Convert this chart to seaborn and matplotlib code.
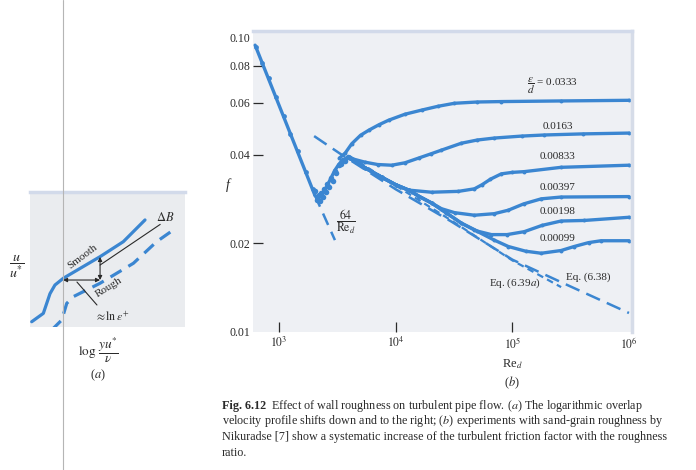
import pandas as pd
import seaborn as sns
import matplotlib.pyplot as plt
from matplotlib.lines import Line2D
from matplotlib.ticker import NullLocator

# ---- panel (b): friction factor vs Reynolds number
lam_re = [624, 2030]
lam_f = [0.094, 0.0291]
lam_ext_re = [2030, 3015]
lam_ext_f = [0.0291, 0.0205]
lam_pts_re = [640, 720, 820, 950, 1100, 1250, 1450, 1700, 1950]
lam_pts_f = [0.093, 0.082, 0.0725, 0.0625, 0.054, 0.047, 0.0412, 0.035, 0.0305]

trans_re = [2030, 2150, 2300, 2570, 2800, 3015, 3250, 3450, 3750, 4045]
trans_f = [0.0291, 0.0284, 0.0288, 0.0312, 0.0334, 0.0354, 0.0370, 0.0381, 0.0388, 0.0389]
trans_pts_re = [2050, 2120, 2200, 2250, 2300, 2380, 2450, 2520, 2600, 2700,
                2800, 2900, 3000, 3100, 3250, 3400, 3550, 3700, 3900]
trans_pts_f = [0.0300, 0.0280, 0.0292, 0.0278, 0.0296, 0.0286, 0.0305, 0.0298,
               0.0318, 0.0310, 0.0334, 0.0326, 0.0352, 0.0345, 0.0368, 0.0372,
               0.0384, 0.0380, 0.0392]

rough_labels = ['0.0333', '0.0163', '0.00833', '0.00397', '0.00198', '0.00099']
re_0333 = [3300, 3700, 4200, 5000, 5900, 7200, 8700, 12000, 16700, 23000, 31900,
           50000, 80500, 262000, 1000000]
f_0333 = [0.0389, 0.0405, 0.0435, 0.0465, 0.0484, 0.0505, 0.0523, 0.0548, 0.0566,
          0.0583, 0.0597, 0.0603, 0.0605, 0.0608, 0.0611]
re_0163 = [4045, 5430, 7000, 9250, 12000, 15700, 20000, 24700, 36600, 50000, 70200,
           120000, 188000, 400000, 1000000]
f_0163 = [0.0389, 0.0377, 0.0370, 0.0368, 0.0375, 0.0389, 0.0402, 0.0414, 0.0437,
          0.0448, 0.0455, 0.0462, 0.0466, 0.0470, 0.0473]
re_00833 = [4045, 5500, 7590, 10000, 12900, 20300, 34500, 47300, 55000, 65000, 80500,
            100000, 126700, 262000, 1000000]
f_00833 = [0.0389, 0.0360, 0.0335, 0.0316, 0.0303, 0.0298, 0.0300, 0.0306, 0.0316,
           0.0330, 0.0344, 0.0348, 0.0350, 0.0362, 0.0368]
re_00397 = [4045, 5500, 7590, 10000, 12900, 16000, 20300, 24700, 32000, 47300, 70000,
            92500, 125000, 177000, 262000, 1000000]
f_00397 = [0.0389, 0.0360, 0.0335, 0.0316, 0.0303, 0.0288, 0.0274, 0.0262, 0.0254,
           0.0249, 0.0252, 0.0259, 0.0272, 0.0283, 0.0287, 0.0288]
re_00198 = [4045, 5500, 7590, 10000, 12900, 16000, 20300, 27000, 36600, 50000, 66200,
            90000, 126700, 180000, 262000, 412000, 1000000]
f_00198 = [0.0389, 0.0360, 0.0335, 0.0316, 0.0303, 0.0288, 0.0274, 0.0254, 0.0234,
           0.0220, 0.0214, 0.0214, 0.0219, 0.0230, 0.0238, 0.0239, 0.0245]
re_00099 = [4045, 5500, 7590, 10000, 12900, 16000, 20300, 27000, 36600, 47300, 70000,
            92500, 130000, 177000, 262000, 339000, 450000, 577000, 1000000]
f_00099 = [0.0389, 0.0360, 0.0335, 0.0316, 0.0303, 0.0288, 0.0274, 0.0254, 0.0234,
           0.0222, 0.0205, 0.0195, 0.0188, 0.0185, 0.0189, 0.0195, 0.0201, 0.0204, 0.0204]

eq638_re = [2000, 3300, 10000, 30000, 100000, 300000, 1000000]
eq638_f = [0.0462, 0.0404, 0.0305, 0.0237, 0.0176, 0.0144, 0.0116]
eq639_re = [4000, 10000, 30000, 100000, 262000]
eq639_f = [0.0396, 0.0314, 0.0239, 0.0175, 0.0142]

# ---- panel (a): schematic log-law profiles (arbitrary units)
smooth_x = [0.11, 0.86, 1.29, 1.61, 2.15, 4.52, 6.02, 7.42]
smooth_y = [0.39, 1.01, 2.47, 3.11, 3.61, 5.21, 6.32, 7.93]
rough_x = [1.40, 2.05, 2.37, 2.80, 4.52, 6.67, 8.17, 9.25]
rough_y = [-0.22, 0.52, 1.75, 2.25, 3.24, 4.72, 6.32, 7.19]

blue = '#3b86d1'
ink = '#2a2a2a'

sns.set_theme(style='white')
plt.rcParams['font.family'] = ['Liberation Serif', 'DejaVu Serif']
plt.rcParams['mathtext.fontset'] = 'stix'

fig = plt.figure(figsize=(6.96, 4.70), dpi=100)
W, H = 696, 470

# ================= panel (b)
ax = fig.add_axes([253 / W, 1 - 332 / H, 379 / W, 301 / H])
ax.set_facecolor('#eef0f4')

rough = pd.concat([pd.DataFrame({'Re': r, 'f': f, 'eps': lab}) for lab, r, f in
                   zip(rough_labels,
                       [re_0333, re_0163, re_00833, re_00397, re_00198, re_00099],
                       [f_0333, f_0163, f_00833, f_00397, f_00198, f_00099])])

sns.lineplot(x=eq638_re, y=eq638_f, color=blue, lw=1.8, linestyle=(0, (6, 3)), ax=ax)
sns.lineplot(x=eq639_re, y=eq639_f, color=blue, lw=1.6, linestyle=(0, (3, 2)), ax=ax)
sns.lineplot(x=lam_re, y=lam_f, color=blue, lw=2.4, ax=ax)
sns.lineplot(x=lam_ext_re, y=lam_ext_f, color=blue, lw=1.8, linestyle=(0, (5, 3)), ax=ax)
sns.lineplot(x=trans_re, y=trans_f, color=blue, lw=2.4, sort=False, ax=ax)
sns.lineplot(data=rough, x='Re', y='f', units='eps', estimator=None, sort=False,
             color=blue, lw=2.4, ax=ax)
sns.scatterplot(data=rough, x='Re', y='f', color=blue, s=8, linewidth=0, ax=ax)
sns.scatterplot(x=lam_pts_re, y=lam_pts_f, color=blue, s=12, linewidth=0, ax=ax)
sns.scatterplot(x=trans_pts_re, y=trans_pts_f, color=blue, s=16, linewidth=0, ax=ax)

ax.set_xscale('log')
ax.set_yscale('log')
ax.set_xlim(10 ** 2.777, 10 ** 6.026)
ax.set_ylim(0.01, 0.105)
ax.set_xticks([1e3, 1e4, 1e5, 1e6], [r'$10^3$', r'$10^4$', r'$10^5$', r'$10^6$'])
ax.set_yticks([0.01, 0.02, 0.04, 0.06, 0.08, 0.10],
              ['0.01', '0.02', '0.04', '0.06', '0.08', '0.10'])
ax.xaxis.set_minor_locator(NullLocator())
ax.yaxis.set_minor_locator(NullLocator())
ax.tick_params(axis='both', which='major', direction='in', length=7, width=0.9,
               color=ink, labelcolor=ink, labelsize=8.5, bottom=True, left=True)
ax.tick_params(axis='x', pad=3)
ax.tick_params(axis='y', pad=2)
ax.xaxis.get_major_ticks()[-1].tick1line.set_visible(False)
ax.yaxis.get_major_ticks()[0].tick1line.set_visible(False)
ax.yaxis.get_major_ticks()[-1].tick1line.set_visible(False)
ax.set_xlabel('')
ax.set_ylabel('')
for s in ['left', 'bottom']:
    ax.spines[s].set_visible(False)
ax.spines['top'].set_color('#d2daea')
ax.spines['top'].set_linewidth(2.5)
ax.spines['right'].set_color('#d6dce8')
ax.spines['right'].set_linewidth(2.5)

lab_kw = dict(fontsize=8, color=ink, ha='center', va='center')
ax.text(223000, 0.0687, r'$\dfrac{\varepsilon}{d}$ = 0.0333', **lab_kw)
ax.text(246000, 0.0499, '0.0163', **lab_kw)
ax.text(246000, 0.0395, '0.00833', **lab_kw)
ax.text(246000, 0.0308, '0.00397', **lab_kw)
ax.text(246000, 0.0257, '0.00198', **lab_kw)
ax.text(246000, 0.0207, '0.00099', **lab_kw)
ax.text(445000, 0.01536, 'Eq. (6.38)', **lab_kw)
ax.text(105000, 0.01466, r'Eq. (6.39$\mathit{a}$)', **lab_kw)
ax.text(3750, 0.0236, r'$\dfrac{64}{\mathrm{Re}_d}$', fontsize=8.5, color=ink,
        ha='center', va='center')

fig.text(228 / W, 1 - 185 / H, 'f', style='italic', fontsize=10, color=ink,
         ha='center', va='center')
fig.text(512 / W, 1 - 364 / H, r'Re$_d$', fontsize=9, color=ink, ha='center', va='center')
fig.text(512 / W, 1 - 383 / H, r'($\mathit{b}$)', fontsize=9, color=ink,
         ha='center', va='center')

# ================= panel (a)
axa = fig.add_axes([30 / W, 1 - 327 / H, 155 / W, 135 / H])
axa.set_facecolor('#eaecef')
sns.lineplot(x=smooth_x, y=smooth_y, color=blue, lw=2.3, sort=False, ax=axa)
sns.lineplot(x=rough_x, y=rough_y, color=blue, lw=2.3, sort=False,
             linestyle=(0, (4, 2.5)), ax=axa)
axa.set_xlim(0, 10)
axa.set_ylim(0, 10)
axa.set_xticks([])
axa.set_yticks([])
for s in ['left', 'bottom', 'right']:
    axa.spines[s].set_visible(False)
axa.spines['top'].set_color('#d2daea')
axa.spines['top'].set_linewidth(2.5)

arr = dict(arrowstyle='<|-|>', color=ink, lw=0.8, mutation_scale=6, shrinkA=0, shrinkB=0)
axa.annotate('', xy=(2.13, 3.48), xytext=(4.52, 3.48), arrowprops=arr)
axa.annotate('', xy=(4.52, 5.19), xytext=(4.52, 3.48), arrowprops=arr)
axa.plot([4.52, 8.4], [4.59, 7.6], color=ink, lw=0.8)
axa.plot([3.03, 4.32], [3.33, 1.63], color=ink, lw=0.8)
axa.text(3.4, 5.2, 'Smooth', rotation=37, fontsize=8, color=ink, ha='center', va='center')
axa.text(5.1, 2.95, 'Rough', rotation=32, fontsize=8, color=ink, ha='center', va='center')
axa.text(8.7, 8.1, r'$\Delta B$', fontsize=9, color=ink, ha='center', va='center')
axa.text(5.3, 0.75, r'$\approx\!\ln\,\varepsilon^{+}$', fontsize=8.5, color=ink,
         ha='center', va='center')

fig.text(17 / W, 1 - 266 / H, r'$\dfrac{u}{u^{*}}$', fontsize=10, color=ink,
         ha='center', va='center')
fig.text(98 / W, 1 - 350 / H, r'$\log\,\dfrac{yu^{*}}{\nu}$', fontsize=9.5, color=ink,
         ha='center', va='center')
fig.text(98 / W, 1 - 375 / H, r'($\mathit{a}$)', fontsize=9, color=ink,
         ha='center', va='center')

# page crease running down the scan
fig.add_artist(Line2D([63 / W, 63 / W], [0, 1], color='#b5b5b5', lw=0.8))

# ================= caption
cap_kw = dict(fontsize=8.75, color=ink, ha='left', va='center')
fig.text(222 / W, 1 - 406 / H, 'Fig. 6.12', weight='bold', **cap_kw)
fig.text(271 / W, 1 - 406 / H,
         r'Effect of wall roughness on turbulent pipe flow. ($\mathit{a}$) The logarithmic overlap',
         **cap_kw)
fig.text(222 / W, 1 - 421 / H,
         r'velocity profile shifts down and to the right; ($\mathit{b}$) experiments with sand-grain roughness by',
         **cap_kw)
fig.text(222 / W, 1 - 437 / H,
         'Nikuradse [7] show a systematic increase of the turbulent friction factor with the roughness',
         **cap_kw)
fig.text(222 / W, 1 - 453 / H, 'ratio.', **cap_kw)

fig.savefig('out.png', dpi=100, facecolor='white')
